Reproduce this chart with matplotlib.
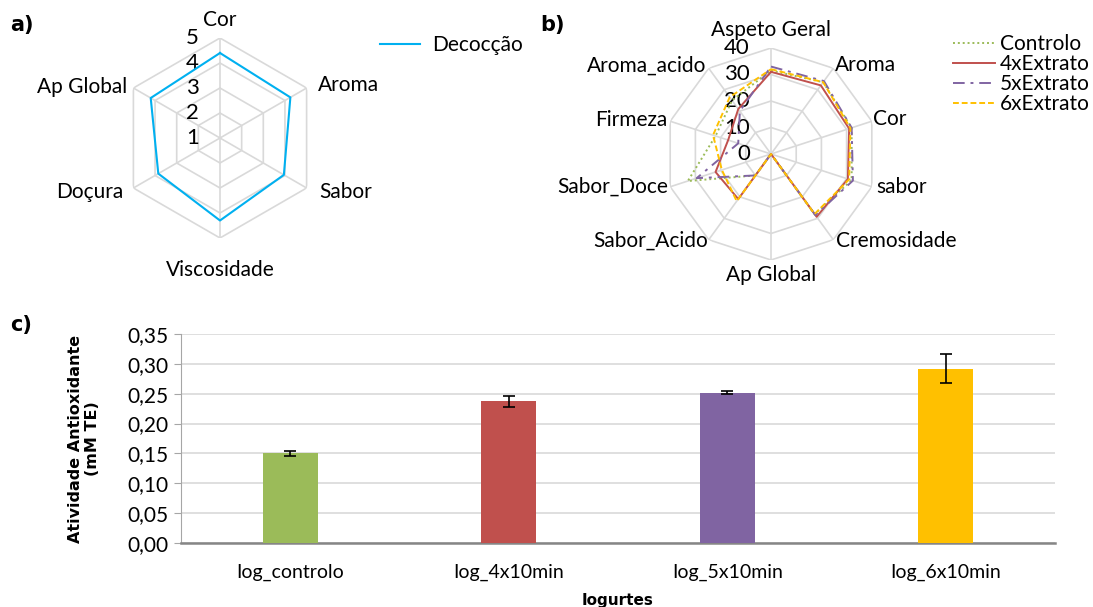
import numpy as np
import matplotlib.pyplot as plt

plt.rcParams['font.family'] = ['Lato', 'DejaVu Sans']

# ---- data -------------------------------------------------------------
a_cats = ['Cor', 'Aroma', 'Sabor', 'Viscosidade', 'Doçura', 'Ap Global']
a_decoccao = [4.4, 4.25, 3.95, 4.3, 3.85, 4.2]

b_cats = ['Aspeto Geral', 'Aroma', 'Cor', 'sabor', 'Cremosidade', 'Ap Global',
          'Sabor_Acido', 'Sabor_Doce', 'Firmeza', 'Aroma_acido']
b_controlo = [31.5, 33.5, 32, 32, 28, 0, 10, 33, 22, 25]
b_4x = [31, 32, 31, 30.5, 29.3, 0, 21, 22, 17, 21]
b_5x = [33, 34, 32, 32.5, 28.5, 0, 10, 29.5, 13, 20]
b_6x = [32, 33.5, 31.5, 31, 28, 0, 22, 19.5, 23, 26.5]

c_cats = ['Iog_controlo', 'Iog_4x10min', 'Iog_5x10min', 'Iog_6x10min']
c_vals = [0.150, 0.237, 0.252, 0.292]
c_err = [0.0035, 0.0095, 0.0028, 0.024]
c_yticks = [0.0, 0.05, 0.10, 0.15, 0.20, 0.25, 0.30, 0.35]

GRID = '#d9d9d9'
W, H = 1093, 607

fig = plt.figure(figsize=(W / 100, H / 100), dpi=100)


def box(x0, y0, x1, y1):
    # pixel box (top-left origin) -> figure fraction
    return [x0 / W, 1 - y1 / H, (x1 - x0) / W, (y1 - y0) / H]


def radar_axes(rect, cats, rmin, rmax, levels, label_off, tick_vals):
    ax = fig.add_axes(rect, projection='polar')
    ax.set_theta_zero_location('N')
    ax.set_theta_direction(-1)
    ax.grid(False)
    ax.spines['polar'].set_visible(False)
    ax.patch.set_visible(False)
    ax.set_xticks([])
    ax.set_yticks([])
    ax.set_ylim(rmin, rmax)
    n = len(cats)
    th = np.linspace(0, 2 * np.pi, n, endpoint=False)
    thc = np.append(th, th[0])
    for lv in levels:
        ax.plot(thc, [lv] * (n + 1), color=GRID, lw=1.2, zorder=1)
    for t in th:
        ax.plot([t, t], [rmin, rmax], color=GRID, lw=1.2, zorder=1)
    for t, c, (dx, dy, ha) in zip(th, cats, label_off):
        ax.annotate(c, xy=(t, rmax), xytext=(dx, dy), textcoords='offset pixels',
                    ha=ha, va='center', fontsize=15, annotation_clip=False)
    for v in tick_vals:
        ax.annotate(f'{v}', xy=(0, v), xytext=(-21, 0), textcoords='offset pixels',
                    ha='right', va='center', fontsize=16, annotation_clip=False)
    return ax, thc


# ---- a) ---------------------------------------------------------------
a_off = [(0, 18, 'center'), (11, 3, 'left'), (13, -4, 'left'),
         (0, -32, 'center'), (-10, -4, 'right'), (-6, 1, 'right')]
ax_a, th_a = radar_axes(box(120, 38, 320, 238), a_cats, 1, 5, [2, 3, 4, 5],
                        a_off, [1, 2, 3, 4, 5])
ax_a.plot(th_a, a_decoccao + a_decoccao[:1], color='#00b0f0', lw=1.5,
          zorder=3, label='Decocção')
fig.legend(*ax_a.get_legend_handles_labels(), loc='center left',
           bbox_to_anchor=(380 / W, 1 - 45 / H), frameon=False, fontsize=15,
           borderpad=0, borderaxespad=0, handlelength=1.9, handletextpad=0.6)
fig.text(10 / W, 1 - 25 / H, 'a)', fontsize=15, fontweight='bold',
         family='DejaVu Sans', va='center')

# ---- b) ---------------------------------------------------------------
b_off = [(0, 18, 'center'), (2, 3, 'left'), (1, 2, 'left'), (4, 0, 'left'),
         (3, -1, 'left'), (0, -15, 'center'), (-1, -1, 'right'),
         (-2, 0, 'right'), (-3, 1, 'right'), (-2, 3, 'right')]
ax_b, th_b = radar_axes(box(665, 48, 877, 260), b_cats, 0, 40,
                        [10, 20, 30, 40], b_off, [0, 10, 20, 30, 40])
series = [
    ('Controlo', b_controlo, '#9bbb59', (0, (1, 1.5))),
    ('4xExtrato', b_4x, '#c0504d', '-'),
    ('5xExtrato', b_5x, '#8064a2', (0, (6, 3, 1.5, 3))),
    ('6xExtrato', b_6x, '#ffc000', (0, (3, 1.5))),
]
for name, vals, col, ls in series:
    ax_b.plot(th_b, vals + vals[:1], color=col, ls=ls, lw=1.4, zorder=3,
              label=name)
fig.legend(*ax_b.get_legend_handles_labels(), loc='upper left',
           bbox_to_anchor=(953 / W, 1 - 34 / H), frameon=False, fontsize=15,
           borderpad=0, borderaxespad=0, handlelength=2.0,
           handletextpad=0.25, labelspacing=0.0)
fig.text(540 / W, 1 - 25 / H, 'b)', fontsize=15, fontweight='bold',
         family='DejaVu Sans', va='center')

# ---- c) ---------------------------------------------------------------
ax_c = fig.add_axes(box(181, 334, 1055, 543))
x = np.arange(len(c_cats))
ax_c.bar(x, c_vals, width=0.25, color=['#9bbb59', '#c0504d', '#8064a2', '#ffc000'],
         zorder=3)
ax_c.errorbar(x, c_vals, yerr=c_err, fmt='none', ecolor='black', elinewidth=1.2,
              capsize=4, capthick=1.2, zorder=4)
ax_c.set_xlim(-0.5, 3.5)
ax_c.set_ylim(0, 0.35)
ax_c.set_yticks(c_yticks)
ax_c.set_yticklabels([f'{v:.2f}'.replace('.', ',') for v in c_yticks], fontsize=15)
ax_c.set_xticks(x)
ax_c.set_xticklabels(c_cats, fontsize=14)
ax_c.tick_params(axis='x', length=0, pad=15)
ax_c.tick_params(axis='y', length=5, color='#a6a6a6', pad=4)
ax_c.grid(axis='y', color=GRID, lw=1.2, zorder=0)
for s in ['top', 'right']:
    ax_c.spines[s].set_visible(False)
ax_c.spines['left'].set_color('#a6a6a6')
ax_c.spines['bottom'].set_color('#868686')
ax_c.spines['bottom'].set_linewidth(1.8)
ax_c.set_ylabel('Atividade Antioxidante\n(mM TE)', fontsize=11.5,
                fontweight='bold', family='DejaVu Sans', labelpad=20,
                linespacing=1.15)
fig.text(618 / W, 1 - 600 / H, 'Iogurtes', fontsize=11, fontweight='bold',
         family='DejaVu Sans', ha='center', va='center')
fig.text(10 / W, 1 - 325 / H, 'c)', fontsize=15, fontweight='bold',
         family='DejaVu Sans', va='center')

fig.savefig('out.png', dpi=100, facecolor='white')
